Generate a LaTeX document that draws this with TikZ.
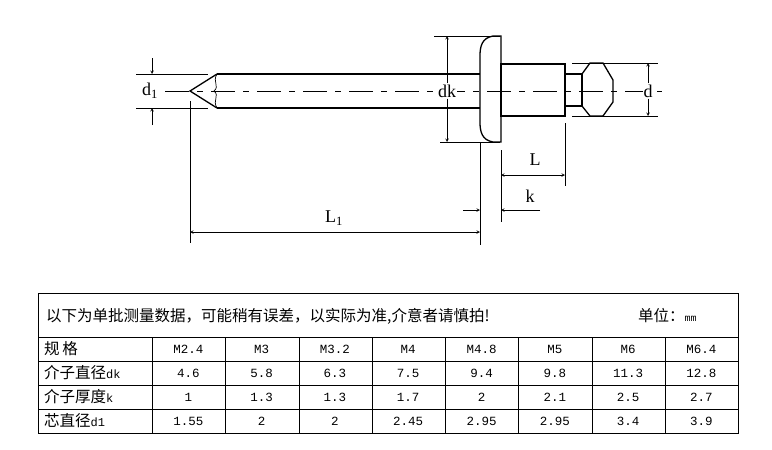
\documentclass[tikz,border=0pt]{standalone}
\usepackage{fontspec}
\setmainfont{Liberation Serif}
\newfontfamily\cjk{Noto Sans CJK SC}
\newfontfamily\mono{Liberation Mono}
\tikzset{
    every node/.style={inner sep=0mm},
    part/.style={line width=1.3pt},
    extl/.style={line width=.6pt},
    diml/.style={line width=.6pt, -stealth},
    dimlab/.style={font=\fontsize{18}{18}\selectfont, fill=white, inner sep=1pt},
    cell/.style={font=\mono\fontsize{12.5}{12.5}\selectfont},
    head/.style={font=\cjk\fontsize{15.5}{15.5}\selectfont, anchor=west}
}
\begin{document}
\begin{tikzpicture}[x=1pt, y=-1pt]
        \useasboundingbox (0,0) rectangle (772,450);
        % rivet
        \draw[part] (217,74) -- (480,74) (217,108) -- (480,108);
        \draw[part] (217,74) -- (190,91) -- (217,108);
        \draw[line width=.7pt] (217,74) .. controls (212,82) and (220,86) .. (214,91) .. controls (220,96) and (212,100) .. (217,108);
        \draw[part] (501,36) -- (501,142) -- (493,142) .. controls (482,140) and (480,132) .. (480,122) -- (480,56) .. controls (480,46) and (482,38) .. (493,36) -- cycle;
        \draw[part] (501,64) rectangle (565,116);
        \draw[part] (565,74) rectangle (582,106);
        \draw[part] (582,74) -- (590,63) -- (603,63) -- (613,80) -- (613,102) -- (603,116) -- (590,116) -- (582,106);
        \draw[extl, dash pattern=on 24pt off 8pt on 6pt off 8pt] (165,91) -- (662,91);
        % extension lines
        \draw[extl] (136,74) -- (208,74) (136,108) -- (208,108);
        \draw[extl] (434,36) -- (500,36) (440,142) -- (500,142);
        \draw[extl] (572,63) -- (658,63) (572,116) -- (658,116);
        \draw[extl] (190,101) -- (190,243);
        \draw[extl] (480,142) -- (480,245);
        \draw[extl] (501,150) -- (501,222);
        \draw[extl] (565,123) -- (565,186);
        % dimensions
        \coordinate (d1t) at (152,58); \coordinate (d1u) at (152,74);
        \coordinate (d1b) at (152,125); \coordinate (d1l) at (152,108);
        \draw[diml] (d1t) -- (d1u);
        \draw[diml] (d1b) -- (d1l);
        \node[dimlab] (d1) at (150,91) {d\textsubscript{1}};
        \node[dimlab] (dk) at (447,91) {dk};
        \coordinate (dkt) at (447,36); \coordinate (dkb) at (447,142);
        \draw[diml] (dk) -- (dkt);
        \draw[diml] (dk) -- (dkb);
        \node[dimlab] (d) at (648,91) {d};
        \coordinate (dt) at (648,63); \coordinate (db) at (648,116);
        \draw[diml] (d) -- (dt);
        \draw[diml] (d) -- (db);
        \coordinate (La) at (501,175); \coordinate (Lb) at (565,175);
        \draw[diml, stealth-stealth] (La) -- (Lb);
        \node[dimlab, fill=none] (L) at (535,160) {L};
        \coordinate (ka0) at (463,210); \coordinate (ka) at (480,210);
        \coordinate (kb0) at (540,210); \coordinate (kb) at (501,210);
        \draw[diml] (ka0) -- (ka);
        \draw[diml] (kb0) -- (kb);
        \node[dimlab, fill=none] (k) at (530,196) {k};
        \coordinate (L1a) at (190,232); \coordinate (L1b) at (480,232);
        \draw[diml, stealth-stealth] (L1a) -- (L1b);
        \node[dimlab, fill=none] (L1) at (334,218) {L\textsubscript{1}};
        % table
        \draw[line width=.9pt] (38,293) rectangle (738,433);
        \foreach \y in {337,361,385,409}
                \draw[line width=.7pt] (38,\y) -- (738,\y);
        \foreach \x in {152,225,299,372,445,518,592,665}
                \draw[line width=.7pt] (\x,337) -- (\x,433);
        \node[head] (note) at (46,316) {以下为单批测量数据，可能稍有误差，以实际为准,介意者请慎拍!};
        \node[head] (unit) at (638,316) {单位：{\mono\fontsize{10}{10}\selectfont mm}};
        \node[head] (r1) at (44,349) {规\,格};
        \node[head] (r2) at (44,373) {介子直径{\mono\fontsize{12}{12}\selectfont dk}};
        \node[head] (r3) at (44,397) {介子厚度{\mono\fontsize{12}{12}\selectfont k}};
        \node[head] (r4) at (44,421) {芯直径{\mono\fontsize{12}{12}\selectfont d1}};
        \foreach \v [count=\i] in {M2.4,M3,M3.2,M4,M4.8,M5,M6,M6.4}
                \node[cell] (s\i) at (115+73.3*\i,349) {\v};
        \foreach \v [count=\i] in {4.6,5.8,6.3,7.5,9.4,9.8,11.3,12.8}
                \node[cell] (dk\i) at (115+73.3*\i,373) {\v};
        \foreach \v [count=\i] in {1,1.3,1.3,1.7,2,2.1,2.5,2.7}
                \node[cell] (k\i) at (115+73.3*\i,397) {\v};
        \foreach \v [count=\i] in {1.55,2,2,2.45,2.95,2.95,3.4,3.9}
                \node[cell] (d1\i) at (115+73.3*\i,421) {\v};
\end{tikzpicture}
\end{document}
